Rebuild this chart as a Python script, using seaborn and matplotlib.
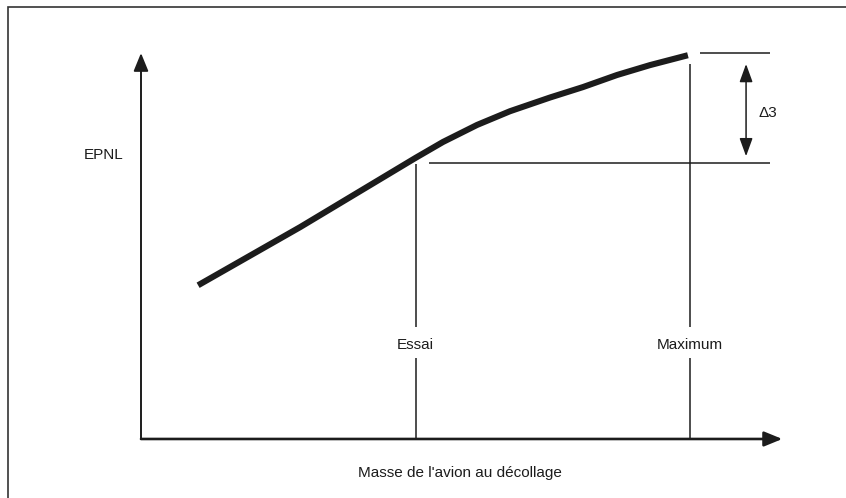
import numpy as np
import pandas as pd
import seaborn as sns
import matplotlib.pyplot as plt
from matplotlib.patches import Rectangle

# schematic: EPNL vs take-off mass (arbitrary units)
mass = [10.4, 29.0, 50.0, 55.0, 61.2, 67.2, 74.5, 80.5, 86.7, 92.7, 99.6]
epnl = [28.0, 38.6, 51.2, 54.1, 57.2, 59.7, 62.2, 64.1, 66.3, 68.1, 69.9]

mass_essai = 50.0
mass_max = 100.0
epnl_essai = 50.3
epnl_max = 70.3
x_axis_end = 116.8
y_axis_end = 70.3
right_end = 114.6
delta_x = 110.2

labels = ['Essai', 'Maximum']
label_epnl = 17.1

sns.set_style('white')
plt.rcParams['font.family'] = ['Liberation Sans Narrow', 'Liberation Sans', 'DejaVu Sans']

ink = '#1c1c1c'
fig = plt.figure(figsize=(8.46, 4.98), dpi=100)
ax = fig.add_axes([0, 0, 1, 1])
ax.set_xlim(-25.68, 128.4)
ax.set_ylim(-10.75, 79.96)
ax.axis('off')

# outer frame (runs off the right and bottom)
fig.patches.append(Rectangle((8 / 846, -0.1), 1.2, 1.086, transform=fig.transFigure,
                             fill=False, lw=1.2, ec='#333333'))

df = pd.DataFrame({'mass': mass, 'epnl': epnl})
sns.lineplot(data=df, x='mass', y='epnl', ax=ax, color=ink, lw=4.4,
             solid_capstyle='butt', solid_joinstyle='round')

# axes with arrow heads
arrow = '-|>,head_length=1.1,head_width=0.45'
ax.annotate('', xy=(x_axis_end, 0), xytext=(0, 0),
            arrowprops=dict(arrowstyle=arrow, lw=1.9, color=ink, shrinkA=0, shrinkB=0))
ax.annotate('', xy=(0, y_axis_end), xytext=(0, 0),
            arrowprops=dict(arrowstyle=arrow, lw=1.4, color=ink, shrinkA=0, shrinkB=0))

# vertical reference lines with gap for the labels
gap_lo, gap_hi = 14.75, 20.4
for m, top, lab in zip([mass_essai, mass_max], [epnl_essai - 0.3, epnl_max - 2.0], labels):
    ax.vlines(m, 0, gap_lo, color=ink, lw=1.1)
    ax.vlines(m, gap_hi, top, color=ink, lw=1.1)
    ax.text(m, label_epnl, lab, ha='center', va='center', fontsize=11, color=ink)

# horizontal reference lines
ax.hlines(epnl_essai, mass_essai + 2.4, right_end, color=ink, lw=1.1)
ax.hlines(epnl_max, mass_max + 1.8, right_end, color=ink, lw=1.1)

# delta arrow
ax.annotate('', xy=(delta_x, epnl_max - 2.0), xytext=(delta_x, epnl_essai + 1.2),
            arrowprops=dict(arrowstyle='<|-|>,head_length=1.1,head_width=0.4',
                            lw=1.1, color=ink, shrinkA=0, shrinkB=0))
ax.text(112.4, 59.4, '\u03943', ha='left', va='center', fontsize=11, color=ink)

ax.text(-3.1, 51.7, 'EPNL', ha='right', va='center', fontsize=11, color=ink)
ax.text(58.1, -6.2, "Masse de l'avion au d\u00e9collage", ha='center', va='center',
        fontsize=11, color=ink)

fig.savefig('out.png', dpi=100)
